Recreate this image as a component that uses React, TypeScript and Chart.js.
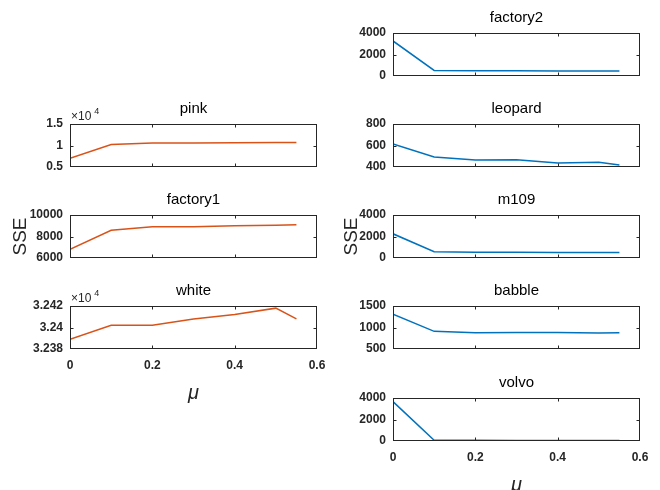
import React, { useEffect, useRef } from "react";
import { Chart, registerables } from "chart.js";

Chart.register(...registerables);

// ---- data ----
const MU = [0, 0.1, 0.2, 0.3, 0.4, 0.5, 0.55];
const X_TICKS = [0, 0.2, 0.4, 0.6];

const PINK = [7050, 10230, 10600, 10610, 10640, 10670, 10690];
const PINK_TICKS = [5000, 10000, 15000];
const FACTORY1 = [6800, 8580, 8900, 8910, 9000, 9040, 9090];
const FACTORY1_TICKS = [6000, 8000, 10000];
const WHITE = [32389, 32402, 32402, 32408, 32412, 32418, 32408];
const WHITE_TICKS = [32380, 32400, 32420];

const FACTORY2 = [3260, 520, 490, 480, 475, 470, 460];
const FACTORY2_TICKS = [0, 2000, 4000];
const LEOPARD = [614, 493, 464, 467, 438, 445, 419];
const LEOPARD_TICKS = [400, 600, 800];
const M109 = [2250, 585, 540, 530, 520, 510, 515];
const M109_TICKS = [0, 2000, 4000];
const BABBLE = [1310, 910, 880, 885, 885, 870, 880];
const BABBLE_TICKS = [500, 1000, 1500];
const VOLVO = [3660, 70, 60, 55, 55, 50, 50];
const VOLVO_TICKS = [0, 2000, 4000];

// ---- styling / layout ----
const ORANGE = "#D95319";
const BLUE = "#0072BD";
const AXIS = "#262626";
const TEXT_FONT = '"Liberation Sans", Arial, sans-serif';
const TICK_FONT = { family: TEXT_FONT, size: 12, weight: "bold" as any, lineHeight: 1.2 };
const Y_AXIS_W = 70;
const TITLE_H = 30;
const RIGHT_PAD = 24;
const BOTTOM_AXIS_H = 56;
const PLAIN_AXIS_H = 18;
const BOX_H = 43;

type Sub = {
  title: string;
  data: number[];
  ticks: number[];
  color: string;
  L: number;
  R: number;
  T: number;
  xLabels: boolean;
  yTitle: boolean;
  yTitlePad: number;
  exp: boolean;
};

const LEFT = { L: 70, R: 317 };
const RIGHTC = { L: 393, R: 640 };

const SUBS: Sub[] = [
  { title: "pink", data: PINK, ticks: PINK_TICKS, color: ORANGE, ...LEFT, T: 124, xLabels: false, yTitle: false, yTitlePad: 9, exp: true },
  { title: "factory1", data: FACTORY1, ticks: FACTORY1_TICKS, color: ORANGE, ...LEFT, T: 215, xLabels: false, yTitle: true, yTitlePad: 9, exp: false },
  { title: "white", data: WHITE, ticks: WHITE_TICKS, color: ORANGE, ...LEFT, T: 306, xLabels: true, yTitle: false, yTitlePad: 9, exp: true },
  { title: "factory2", data: FACTORY2, ticks: FACTORY2_TICKS, color: BLUE, ...RIGHTC, T: 33, xLabels: false, yTitle: false, yTitlePad: 17, exp: false },
  { title: "leopard", data: LEOPARD, ticks: LEOPARD_TICKS, color: BLUE, ...RIGHTC, T: 124, xLabels: false, yTitle: false, yTitlePad: 17, exp: false },
  { title: "m109", data: M109, ticks: M109_TICKS, color: BLUE, ...RIGHTC, T: 215, xLabels: false, yTitle: true, yTitlePad: 17, exp: false },
  { title: "babble", data: BABBLE, ticks: BABBLE_TICKS, color: BLUE, ...RIGHTC, T: 306, xLabels: false, yTitle: false, yTitlePad: 17, exp: false },
  { title: "volvo", data: VOLVO, ticks: VOLVO_TICKS, color: BLUE, ...RIGHTC, T: 398, xLabels: true, yTitle: false, yTitlePad: 17, exp: false },
];

const fmt = (v: number) => String(parseFloat(v.toFixed(4)));

const boxPlugin = {
  id: "matlabBox",
  afterDatasetsDraw(chart: any, _args: any, opts: any) {
    const { ctx, chartArea: a, scales } = chart;
    const l = Math.round(a.left) + 0.5;
    const r = Math.round(a.right) - 0.5;
    const t = Math.round(a.top) + 0.5;
    const b = Math.round(a.bottom) - 0.5;
    ctx.save();
    ctx.strokeStyle = AXIS;
    ctx.lineWidth = 1;
    ctx.strokeRect(l, t, r - l, b - t);
    const tl = 3;
    ctx.beginPath();
    for (const tk of scales.x.ticks) {
      const px = Math.round(scales.x.getPixelForValue(tk.value)) + 0.5;
      if (px <= l + 1 || px >= r - 1) continue;
      ctx.moveTo(px, b);
      ctx.lineTo(px, b - tl);
      ctx.moveTo(px, t);
      ctx.lineTo(px, t + tl);
    }
    for (const tk of scales.y.ticks) {
      const py = Math.round(scales.y.getPixelForValue(tk.value)) + 0.5;
      if (py <= t + 1 || py >= b - 1) continue;
      ctx.moveTo(l, py);
      ctx.lineTo(l + tl, py);
      ctx.moveTo(r, py);
      ctx.lineTo(r - tl, py);
    }
    ctx.stroke();
    if (opts && opts.exp) {
      ctx.fillStyle = AXIS;
      ctx.textBaseline = "middle";
      ctx.textAlign = "left";
      ctx.font = `12px ${TEXT_FONT}`;
      const base = "\u00d710";
      const x0 = a.left + 1;
      ctx.fillText(base, x0, a.top - 7);
      const w = ctx.measureText(base).width;
      ctx.font = `9px ${TEXT_FONT}`;
      ctx.fillText("4", x0 + w + 3, a.top - 12);
    }
    ctx.restore();
  },
};

function SubPlot({ s }: { s: Sub }) {
  const ref = useRef<HTMLCanvasElement | null>(null);
  const boxW = s.R - s.L;
  const axisH = s.xLabels ? BOTTOM_AXIS_H : PLAIN_AXIS_H;
  const w = Y_AXIS_W + boxW + RIGHT_PAD;
  const h = TITLE_H + BOX_H + axisH;

  useEffect(() => {
    if (!ref.current) return;
    const yTicks = s.ticks;
    const chart = new Chart(ref.current, {
      type: "line",
      data: {
        datasets: [
          {
            data: MU.map((x, i) => ({ x, y: s.data[i] })),
            borderColor: s.color,
            borderWidth: 1.5,
            pointRadius: 0,
            fill: false,
            tension: 0,
          },
        ],
      },
      plugins: [boxPlugin as any],
      options: {
        responsive: false,
        animation: false,
        layout: { padding: { left: 0, right: RIGHT_PAD, top: 0, bottom: 0 } },
        plugins: {
          legend: { display: false },
          tooltip: { enabled: false },
          title: {
            display: true,
            text: s.title,
            fullSize: false,
            color: "#000",
            font: { family: TEXT_FONT, size: 15, weight: "normal" as any, lineHeight: 1.2 },
            padding: { top: 6, bottom: 6 },
          },
          matlabBox: { exp: s.exp },
        } as any,
        scales: {
          x: {
            type: "linear",
            min: X_TICKS[0],
            max: X_TICKS[X_TICKS.length - 1],
            afterBuildTicks: (scale: any) => {
              scale.ticks = X_TICKS.map((v) => ({ value: v }));
            },
            afterFit: (scale: any) => {
              scale.height = axisH;
            },
            grid: { display: false, drawTicks: false, tickLength: 0 },
            border: { display: false },
            ticks: {
              display: s.xLabels,
              padding: 9,
              maxRotation: 0,
              autoSkip: false,
              color: AXIS,
              font: TICK_FONT,
              callback: (v: any) => fmt(Number(v)),
            },
            title: {
              display: s.xLabels,
              text: "\u03bc",
              color: AXIS,
              font: { family: TEXT_FONT, size: 20, style: "italic", lineHeight: 1.2 },
              padding: { top: 10, bottom: 0 },
            },
          },
          y: {
            type: "linear",
            min: yTicks[0],
            max: yTicks[yTicks.length - 1],
            afterBuildTicks: (scale: any) => {
              scale.ticks = yTicks.map((v) => ({ value: v }));
            },
            afterFit: (scale: any) => {
              scale.width = Y_AXIS_W;
            },
            grid: { display: false, drawTicks: false, tickLength: 0 },
            border: { display: false },
            ticks: {
              padding: 7,
              autoSkip: false,
              color: AXIS,
              font: TICK_FONT,
              callback: (v: any) => (s.exp ? fmt(Number(v) / 1e4) : fmt(Number(v))),
            },
            title: {
              display: s.yTitle,
              text: "SSE",
              color: AXIS,
              font: { family: TEXT_FONT, size: 19, lineHeight: 1.2 },
              padding: { top: s.yTitlePad, bottom: 0 },
            },
          },
        },
      } as any,
    });
    return () => chart.destroy();
  }, [s]);

  return (
    <div
      style={{
        position: "absolute",
        left: s.L - Y_AXIS_W,
        top: s.T - TITLE_H,
        width: w,
        height: h,
      }}
    >
      <canvas ref={ref} width={w} height={h} style={{ width: w, height: h, display: "block" }} />
    </div>
  );
}

export default function App() {
  return (
    <div
      style={{
        position: "absolute",
        left: 0,
        top: 0,
        width: 660,
        height: 490,
        overflow: "hidden",
        background: "#fff",
      }}
    >
      {SUBS.map((s) => (
        <SubPlot key={s.title} s={s} />
      ))}
    </div>
  );
}
